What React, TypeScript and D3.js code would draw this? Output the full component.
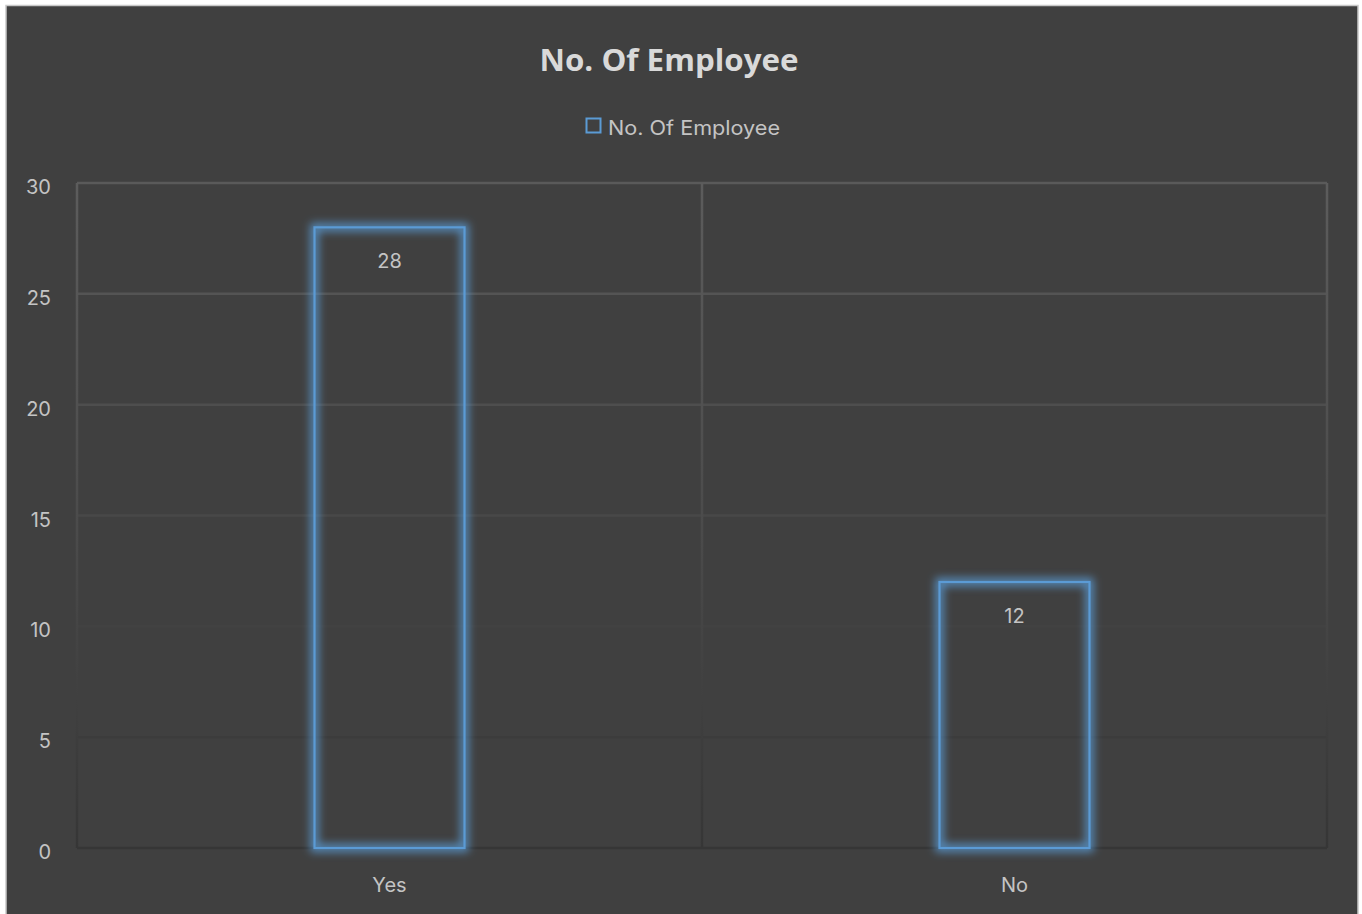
import React from "react";
import * as d3 from "d3";

const categories = ["Yes", "No"];
const values = [28, 12];
const yTicks = [0, 5, 10, 15, 20, 25, 30];
const seriesName = "No. Of Employee";
const chartTitle = "No. Of Employee";

const W = 1362;
const H = 914;
const plot = { left: 77, right: 1327, top: 183, bottom: 848 };
const FONT = "Inter, 'Open Sans', 'Noto Sans', sans-serif";
const TEXT = "#c4c4c4";
const BLUE = "#5b9bd5";

export default function App() {
  const x = d3
    .scaleBand<string>()
    .domain(categories)
    .range([plot.left, plot.right])
    .paddingInner(0)
    .paddingOuter(0);
  const y = d3.scaleLinear().domain([0, 30]).range([plot.bottom, plot.top]);
  const barW = x.bandwidth() * 0.24;

  const vLines = [plot.left, ...categories.slice(1).map((c) => x(c) as number), plot.right];

  return (
    <svg
      width={W}
      height={H}
      style={{ position: "absolute", left: 0, top: 0, display: "block" }}
    >
      <defs>
        <linearGradient
          id="gridGrad"
          gradientUnits="userSpaceOnUse"
          x1={0}
          y1={plot.top}
          x2={0}
          y2={plot.bottom}
        >
          <stop offset="0" stopColor="#5c5c5c" />
          <stop offset="0.55" stopColor="#4a4a4a" />
          <stop offset="1" stopColor="#363636" />
        </linearGradient>
        <filter id="glow" x="-30%" y="-30%" width="160%" height="160%">
          <feGaussianBlur in="SourceGraphic" stdDeviation="4" />
        </filter>
      </defs>
      <rect x={0} y={0} width={W} height={H} fill="#ffffff" />
      <rect x={6} y={5.5} width={1352} height={H + 10} fill="#404040" stroke="#c8c8c8" strokeWidth={1.5} />

      {/* title */}
      <text
        x={669}
        y={71}
        textAnchor="middle"
        fill="#d9d9d9"
        fontFamily="'Open Sans', 'Noto Sans', sans-serif"
        fontWeight={700}
        fontSize={30}
        textLength={259}
        lengthAdjust="spacingAndGlyphs"
      >
        {chartTitle}
      </text>

      {/* legend */}
      <rect x={586.5} y={118.5} width={14} height={14} fill="none" stroke={BLUE} strokeWidth={2} />
      <text x={608} y={135} fill={TEXT} fontFamily={FONT} fontSize={20} textLength={172} lengthAdjust="spacingAndGlyphs">
        {seriesName}
      </text>

      {/* gridlines */}
      {yTicks.map((t) => (
        <line
          key={"h" + t}
          x1={plot.left}
          x2={plot.right}
          y1={y(t)}
          y2={y(t)}
          stroke={d3.interpolateRgb("#363636", "#5a5a5a")(t / 30)}
          strokeWidth={2.5}
        />
      ))}
      {vLines.map((vx, i) => (
        <line
          key={"v" + i}
          x1={vx}
          x2={vx}
          y1={plot.top}
          y2={plot.bottom}
          stroke="url(#gridGrad)"
          strokeWidth={2.5}
        />
      ))}

      {/* y tick labels */}
      {yTicks.map((t) => (
        <text
          key={"yl" + t}
          x={51}
          y={y(t) + 11}
          textAnchor="end"
          fill={TEXT}
          fontFamily={FONT}
          fontSize={20}
        >
          {t}
        </text>
      ))}

      {/* bars */}
      {categories.map((c, i) => {
        const cx = (x(c) as number) + x.bandwidth() / 2;
        const bx = cx - barW / 2;
        const by = y(values[i]);
        const bh = y(0) - by;
        return (
          <g key={c}>
            <rect
              x={bx}
              y={by}
              width={barW}
              height={bh}
              fill="none"
              stroke={BLUE}
              strokeOpacity={0.85}
              strokeWidth={8}
              filter="url(#glow)"
            />
            <rect x={bx} y={by} width={barW} height={bh} fill="none" stroke={BLUE} strokeWidth={2.2} />
            <text
              x={cx}
              y={by + 41}
              textAnchor="middle"
              fill={TEXT}
              fontFamily={FONT}
              fontSize={20}
            >
              {values[i]}
            </text>
            <text
              x={cx}
              y={892}
              textAnchor="middle"
              fill={TEXT}
              fontFamily={FONT}
              fontSize={20}
            >
              {c}
            </text>
          </g>
        );
      })}
    </svg>
  );
}
